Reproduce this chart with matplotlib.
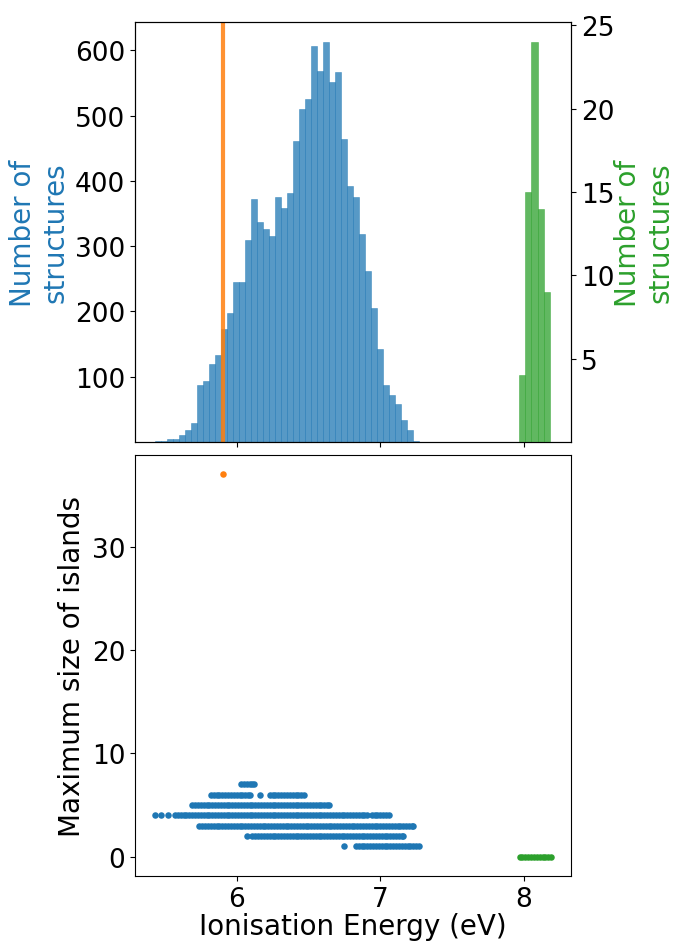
"""
Ionisation energy histogram + max island size scatter
"""
import matplotlib
matplotlib.use("Agg")
import matplotlib.pyplot as plt
import numpy as np

plt.rcParams["font.size"] = 20
plt.rcParams["xtick.labelsize"] = 19
plt.rcParams["ytick.labelsize"] = 19

# histogram of the main set (blue), 44 bins between these edges
blue_range = (5.43, 7.267)
blue_counts = [1, 2, 4, 5, 11, 18, 29, 87, 93, 119, 133, 173, 198, 245, 245,
               309, 372, 337, 327, 315, 375, 359, 382, 462, 511, 526, 607,
               569, 613, 551, 567, 465, 392, 375, 318, 262, 205, 143, 87, 72,
               58, 33, 19, 2]

# second set (green), 5 bins
green_range = (7.9655, 8.183)
green_counts = [4, 15, 24, 14, 9]

# reference structure (orange)
ref_ie = 5.906
ref_island = 37

# scatter: max island size per structure, grouped by island size
blue_rows = {
    7: [6.03, 6.05, 6.07, 6.09, 6.11, 6.12],
    6: [5.82, 5.84, 5.86, 5.88, 5.90, 5.92, 5.94, 5.96, 5.98, 6.00, 6.02,
        6.04, 6.06, 6.08, 6.09, 6.165,
        6.23, 6.25, 6.27, 6.29, 6.31, 6.33, 6.35, 6.37, 6.39, 6.41, 6.43,
        6.45, 6.47],
    5: [5.69, 5.71, 5.73, 5.75, 5.77, 5.79, 5.81, 5.83, 5.85, 5.87, 5.89,
        5.91, 5.93, 5.95, 5.97, 5.99, 6.01, 6.03, 6.05, 6.07, 6.09, 6.11,
        6.13, 6.15, 6.17, 6.19, 6.21, 6.23, 6.25, 6.27, 6.29, 6.31, 6.33,
        6.35, 6.37, 6.39, 6.41, 6.43, 6.45, 6.47, 6.49, 6.51, 6.53, 6.55,
        6.57, 6.59, 6.61, 6.63, 6.64],
    4: [5.43, 5.47, 5.52,
        5.57, 5.59, 5.61, 5.63, 5.65, 5.67, 5.69, 5.71, 5.73, 5.75, 5.77,
        5.79, 5.81, 5.83, 5.85, 5.87, 5.89, 5.91, 5.93, 5.95, 5.97, 5.99,
        6.01, 6.03, 6.05, 6.07, 6.09, 6.11, 6.13, 6.15, 6.17, 6.19, 6.21,
        6.23, 6.25, 6.27, 6.29, 6.31, 6.33, 6.35, 6.37, 6.39, 6.41, 6.43,
        6.45, 6.47, 6.49, 6.51, 6.53, 6.55, 6.57, 6.59, 6.61, 6.63, 6.65,
        6.67, 6.69, 6.71, 6.73, 6.75, 6.77, 6.79, 6.81, 6.83, 6.85, 6.87,
        6.89, 6.91,
        6.94, 6.96, 6.98, 7.00, 7.02, 7.04, 7.06],
    3: [5.74, 5.76, 5.78, 5.80, 5.82, 5.84, 5.86, 5.88, 5.90, 5.92, 5.94,
        5.96, 5.98, 6.00, 6.02, 6.04, 6.06, 6.08, 6.10, 6.12, 6.14, 6.16,
        6.18, 6.20, 6.22, 6.24, 6.26, 6.28, 6.30, 6.32, 6.34, 6.36, 6.38,
        6.40, 6.42, 6.44, 6.46, 6.48, 6.50, 6.52, 6.54, 6.56, 6.58, 6.60,
        6.62, 6.64, 6.66, 6.68, 6.70, 6.72, 6.74, 6.76, 6.78, 6.80, 6.82,
        6.84, 6.86, 6.88, 6.90, 6.92, 6.94, 6.96, 6.98, 7.00, 7.02, 7.04,
        7.06, 7.08, 7.10, 7.12, 7.14, 7.16, 7.18, 7.20, 7.22, 7.23],
    2: [6.07,
        6.11, 6.13, 6.15, 6.17, 6.19, 6.21, 6.23, 6.25, 6.27, 6.29, 6.31,
        6.33, 6.35, 6.37, 6.39, 6.41, 6.43, 6.45, 6.47, 6.49, 6.51, 6.53,
        6.55, 6.57, 6.59, 6.61, 6.63, 6.65, 6.67, 6.69, 6.71, 6.73, 6.75,
        6.77, 6.79, 6.81, 6.83, 6.85, 6.87, 6.89, 6.91, 6.93, 6.95, 6.97,
        6.99, 7.01, 7.03, 7.05, 7.07, 7.09, 7.11, 7.13, 7.15, 7.16],
    1: [6.75,
        6.83, 6.85, 6.87, 6.89, 6.91, 6.93, 6.95, 6.97, 6.99, 7.01, 7.03,
        7.05, 7.07, 7.09, 7.11, 7.13, 7.15, 7.17, 7.19, 7.21, 7.23, 7.25,
        7.27],
}
green_x = [7.97, 7.99, 8.01, 8.03, 8.05, 8.07, 8.09, 8.11, 8.13, 8.15, 8.17,
           8.19]


def main():
    fig = plt.figure(figsize=(6.74, 9.45), dpi=100)
    ax_h = fig.add_axes([0.2003, 0.5312, 0.6469, 0.4445])
    ax_s = fig.add_axes([0.2003, 0.0720, 0.6469, 0.4455], sharex=ax_h)
    ax_h2 = ax_h.twinx()

    # histograms
    b_edges = np.linspace(blue_range[0], blue_range[1], len(blue_counts) + 1)
    ax_h.bar(b_edges[:-1], blue_counts, width=np.diff(b_edges), align="edge",
             color="tab:blue", alpha=0.75, edgecolor="tab:blue", linewidth=0.4)
    g_edges = np.linspace(green_range[0], green_range[1], len(green_counts) + 1)
    ax_h2.bar(g_edges[:-1], green_counts, width=np.diff(g_edges), align="edge",
              color="tab:green", alpha=0.75, edgecolor="tab:green", linewidth=0.4)
    ax_h.axvline(ref_ie, color="tab:orange", linewidth=3, alpha=0.85)

    ax_h.set_yticks([100, 200, 300, 400, 500, 600])
    ax_h2.set_yticks([5, 10, 15, 20, 25])
    ax_h.set_ylim(0, max(blue_counts) * 1.05)
    ax_h2.set_ylim(0, max(green_counts) * 1.05)
    ax_h.tick_params(labelbottom=False)
    ax_h.set_ylabel("Number of\nstructures", color="tab:blue")
    ax_h2.set_ylabel("Number of\nstructures", color="tab:green", labelpad=0)

    # scatter
    kw = dict(s=22, linewidths=0)
    for size, xs in blue_rows.items():
        ax_s.scatter(xs, [size] * len(xs), color="tab:blue", **kw)
    ax_s.scatter(green_x, [0] * len(green_x), color="tab:green", **kw)
    ax_s.scatter([ref_ie], [ref_island], color="tab:orange", **kw)
    ax_s.set_yticks([0, 10, 20, 30])
    ax_s.set_xticks([6, 7, 8])
    ax_s.set_ylabel("Maximum size of islands")
    ax_s.set_xlabel("Ionisation Energy (eV)", labelpad=0)

    fig.savefig("out.png", dpi=100)
    plt.close(fig)


if __name__ == "__main__":
    main()
